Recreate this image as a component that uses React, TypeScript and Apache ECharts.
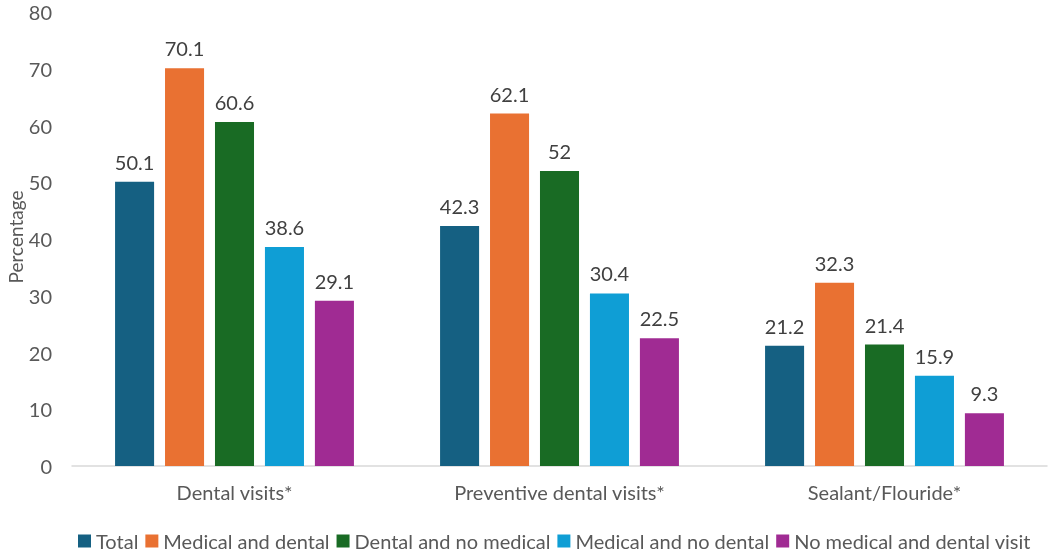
import React, { useEffect, useRef } from "react";
import * as echarts from "echarts";

const categories = ["Dental visits*", "Preventive dental visits*", "Sealant/Flouride*"];
const seriesNames = [
  "Total",
  "Medical and dental",
  "Dental and no medical",
  "Medical and no dental",
  "No medical and dental visit",
];
const totalValues = [50.1, 42.3, 21.2];
const medDentValues = [70.1, 62.1, 32.3];
const dentNoMedValues = [60.6, 52, 21.4];
const medNoDentValues = [38.6, 30.4, 15.9];
const noneValues = [29.1, 22.5, 9.3];
const colors = ["#156082", "#E97132", "#196B24", "#0F9ED5", "#A02B93"];
const yTitle = "Percentage";

const FONT = "Lato, 'Open Sans', sans-serif";
const FS = 20;

export default function App() {
  const ref = useRef<HTMLDivElement>(null);
  useEffect(() => {
    if (!ref.current) return;
    const chart = echarts.init(ref.current, undefined, { renderer: "svg" });
    const values = [totalValues, medDentValues, dentNoMedValues, medNoDentValues, noneValues];
    chart.setOption({
      animation: false,
      textStyle: { fontFamily: FONT },
      grid: {
        left: 72,
        right: 5,
        top: 12,
        bottom: 88,
        containLabel: false,
        outerBoundsMode: "none",
      },
      graphic: [
        {
          type: "text",
          x: 15,
          y: 237,
          rotation: Math.PI / 2,
          style: {
            text: yTitle,
            fontSize: FS - 1,
            fontFamily: FONT,
            fill: "#595959",
            textAlign: "center",
            textVerticalAlign: "middle",
          },
        },
      ],
      legend: {
        top: 531,
        left: 78,
        padding: 0,
        itemWidth: 13,
        itemHeight: 13,
        itemGap: 7,
        icon: "rect",
        textStyle: { fontSize: FS, color: "#595959", fontFamily: FONT },
        data: seriesNames,
      },
      xAxis: {
        type: "category",
        data: categories,
        axisLine: { lineStyle: { color: "#D9D9D9", width: 1.5 } },
        axisTick: { show: false },
        axisLabel: { fontSize: FS, color: "#595959", margin: 16, fontFamily: FONT },
      },
      yAxis: {
        type: "value",
        min: 0,
        max: 80,
        interval: 10,
        splitLine: { show: false },
        axisLine: { show: false },
        axisTick: { show: false },
        axisLabel: { fontSize: FS, color: "#595959", margin: 20, fontFamily: FONT },
      },
      series: seriesNames.map((n, i) => ({
        name: n,
        type: "bar",
        data: values[i],
        barCategoryGap: "26.5%",
        barGap: "28%",
        itemStyle: { color: colors[i] },
        label: {
          show: true,
          position: "top",
          distance: 10,
          fontSize: FS,
          color: "#404040",
          fontFamily: FONT,
        },
      })),
    });
    return () => chart.dispose();
  }, []);
  return (
    <div
      ref={ref}
      style={{ position: "fixed", left: 0, top: 0, width: 1052, height: 554 }}
    />
  );
}
